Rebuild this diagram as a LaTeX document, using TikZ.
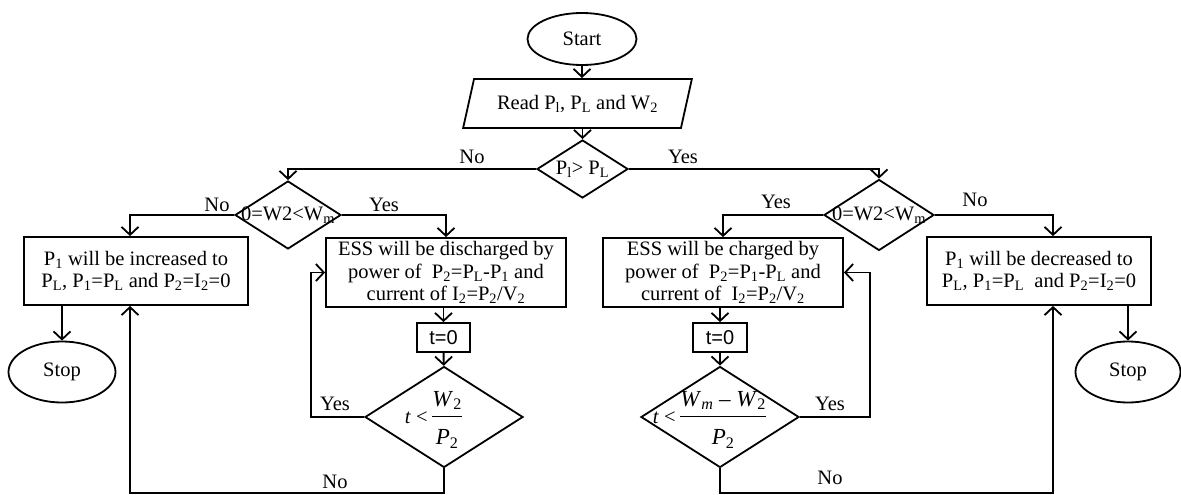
\documentclass[tikz,border=0pt]{standalone}
\usepackage{amsmath}
\usepackage{fontspec}
\setmainfont{Liberation Serif}
\newfontfamily\arialfont{Liberation Sans}
\usetikzlibrary{shapes.geometric,arrows.meta}

\newcommand{\limfrac}[2]{\makebox[0pt]{\textit{t} <\,{\fontsize{23}{26}\selectfont$\genfrac{}{}{1.2pt}{0}{\mbox{#1}}{\rule{0pt}{24pt}\mbox{#2}}$}\kern20pt}}

\begin{document}
\begin{tikzpicture}[x=1pt, y=-1pt, line width=1.8pt,
    every node/.style={font=\fontsize{20.5}{22.5}\selectfont},
    terminal/.style={draw, ellipse, inner sep=0pt},
    io/.style={draw, trapezium, trapezium left angle=64, trapezium right angle=116, trapezium stretches=true, inner sep=0pt},
    process/.style={draw, rectangle, align=center, inner sep=0pt},
    counter/.style={draw, rectangle, inner sep=0pt, font=\arialfont\fontsize{20}{22}\selectfont},
    decision/.style={draw, diamond, inner sep=0pt},
    arrow/.style={-{Straight Barb[length=8pt, width=17pt]}}
]
\useasboundingbox (0,0) rectangle (1181,495);

% top of the chart
\node[terminal, minimum width=109, minimum height=52] (start) at (582,39) {Start};
\node[io, minimum width=229, minimum height=49] (read) at (577.5,103.5) {Read P\textsubscript{l}, P\textsubscript{L} and W\textsubscript{2}};
\node[decision, minimum width=91, minimum height=58] (test) at (582.5,169) {\makebox[0pt]{P\textsubscript{l}> P\textsubscript{L}}};

% energy checks
\node[decision, minimum width=106, minimum height=68] (soc1) at (288,215) {\makebox[0pt]{0=W2<W\textsubscript{m}}};
\node[decision, minimum width=110, minimum height=71] (soc2) at (879,215) {\makebox[0pt]{0=W2<W\textsubscript{m}}};

% actions
\node[process, minimum width=224, minimum height=68] (raise) at (136,271) {P\textsubscript{1} will be increased to\\P\textsubscript{L}, P\textsubscript{1}=P\textsubscript{L} and P\textsubscript{2}=I\textsubscript{2}=0};
\node[process, minimum width=240, minimum height=69] (discharge) at (446,272.5) {ESS will be discharged by\\power of \ P\textsubscript{2}=P\textsubscript{L}-P\textsubscript{1} and\\current of I\textsubscript{2}=P\textsubscript{2}/V\textsubscript{2}};
\node[process, minimum width=240, minimum height=69] (charge) at (723,272.5) {ESS will be charged by\\power of \ P\textsubscript{2}=P\textsubscript{1}-P\textsubscript{L} and\\current of \ I\textsubscript{2}=P\textsubscript{2}/V\textsubscript{2}};
\node[process, minimum width=224, minimum height=68] (lower) at (1039,271) {P\textsubscript{1} will be decreased to\\P\textsubscript{L}, P\textsubscript{1}=P\textsubscript{L} \ and P\textsubscript{2}=I\textsubscript{2}=0};

\node[terminal, minimum width=107, minimum height=61] (stop1) at (62,372) {Stop};
\node[terminal, minimum width=105, minimum height=61] (stop2) at (1128,372) {Stop};

% timing loops
\node[counter, minimum width=53, minimum height=29] (reset1) at (443.5,337.5) {t=0};
\node[counter, minimum width=54, minimum height=29] (reset2) at (720,337.5) {t=0};
\node[decision, minimum width=158, minimum height=101, text height=40pt, text depth=28pt] (time1) at (444,417) {\limfrac{\textit{W}\textsubscript{2}}{\textit{P}\textsubscript{2}}};
\node[decision, minimum width=158, minimum height=101, text height=40pt, text depth=28pt] (time2) at (720,417) {\limfrac{\textit{W}\textsubscript{\textit{m}} – \textit{W}\textsubscript{2}}{\textit{P}\textsubscript{2}}};

\coordinate (loop1) at (311,417);
\coordinate (loop2) at (870,417);
\coordinate (back1) at (444,493);
\coordinate (back2) at (720,493);

% connectors
\draw[arrow] (start.south) -- (start.south |- read.north);
\draw[arrow] (test.north |- read.south) -- (test.north);
\draw[arrow] (test.west) -| (soc1.north);
\draw[arrow] (test.east) -| (soc2.north);
\draw[arrow] (soc1.west) -| ([xshift=-6pt]raise.north);
\draw[arrow] (soc1.east) -| (discharge.north);
\draw[arrow] (soc2.west) -| (charge.north);
\draw[arrow] (soc2.east) -| ([xshift=14pt]lower.north);
\draw[arrow] (stop1.north |- raise.south) -- (stop1.north);
\draw[arrow] (stop2.north |- lower.south) -- (stop2.north);
\draw[arrow] (reset1.north |- discharge.south) -- (reset1.north);
\draw[arrow] (reset1) -- (time1);
\draw[arrow] (reset2.north |- charge.south) -- (reset2.north);
\draw[arrow] (reset2) -- (time2);
\draw[arrow] (time1.west) -- (loop1) |- (discharge.west);
\draw[arrow] (time2.east) -- (loop2) |- (charge.east);
\draw[arrow] (time1.south) -- (back1) -| ([xshift=-6pt]raise.south);
\draw[arrow] (time2.south) -- (back2) -| ([xshift=14pt]lower.south);

% branch labels
\node (no1) at (472,157) {No};
\node (yes1) at (683,157) {Yes};
\node (no2) at (217,205) {No};
\node (yes2) at (384,205) {Yes};
\node (yes3) at (776,202) {Yes};
\node (no3) at (975,200) {No};
\node (yes4) at (335,404) {Yes};
\node (no4) at (335,482) {No};
\node (yes5) at (830,404) {Yes};
\node (no5) at (830,478) {No};
\end{tikzpicture}
\end{document}
